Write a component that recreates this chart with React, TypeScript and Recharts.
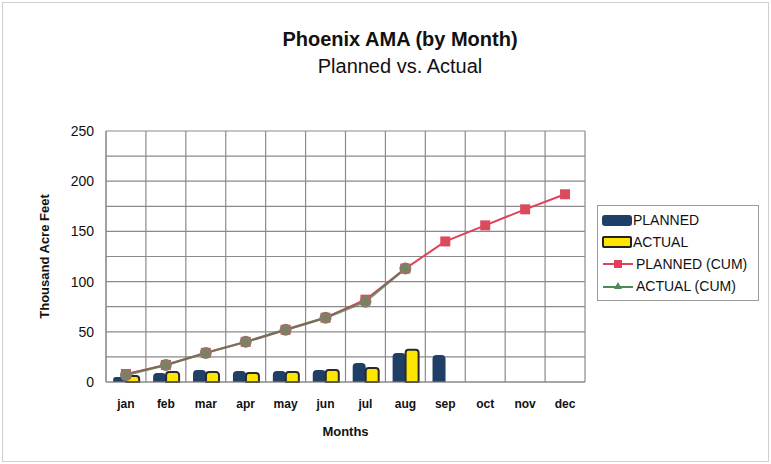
import { ComposedChart, Bar, Line, XAxis, YAxis, CartesianGrid } from 'recharts'

const months = ['jan', 'feb', 'mar', 'apr', 'may', 'jun', 'jul', 'aug', 'sep', 'oct', 'nov', 'dec']
const planned = [5, 9, 12, 11, 11, 12, 19, 29, 27, null, null, null]
const actual = [6, 10, 10, 9, 10, 12, 14, 32, null, null, null, null]
const plannedCum = [8, 17, 29, 40, 52, 64, 82, 113, 140, 156, 172, 187]
const actualCum = [7, 17, 29, 40, 52, 64, 80, 113, null, null, null, null]
const yTicks = [0, 25, 50, 75, 100, 125, 150, 175, 200, 225, 250]

const data = months.map((m, i) => ({
  month: m,
  planned: planned[i],
  actual: actual[i],
  plannedCum: plannedCum[i],
  actualCum: actualCum[i],
}))

const font = '"Liberation Sans", Arial, sans-serif'

const hasPoint = (p: any) => p.cx != null && p.cy != null && p.value != null

function Triangle(props: any) {
  const { cx, cy } = props
  if (!hasPoint(props)) return <g />
  return <path d={`M${cx},${cy - 4}L${cx + 4},${cy + 3}L${cx - 4},${cy + 3}Z`} fill="#6a8a5a" fillOpacity={0.7} />
}

function LegendBox() {
  const row = { display: 'flex', alignItems: 'center', height: 22 } as const
  return (
    <div style={{ position: 'absolute', left: 597, top: 205, border: '1px solid #9a9a9a', padding: '3px 4px', width: 152, fontFamily: font, fontSize: 14, color: '#111', background: '#fff' }}>
      <div style={row}>
        <span style={{ width: 30, height: 11, background: '#1f3f66', borderRadius: 3, marginRight: 1 }} />PLANNED
      </div>
      <div style={row}>
        <span style={{ width: 26, height: 8, background: '#ffe600', border: '2px solid #222', borderRadius: 2, marginRight: 1 }} />ACTUAL
      </div>
      <div style={row}>
        <svg width={32} height={12} style={{ marginRight: 2 }}>
          <line x1={1} y1={6} x2={31} y2={6} stroke="#e0405a" strokeWidth={2} />
          <rect x={12} y={2} width={8} height={8} fill="#e0405a" />
        </svg>
        PLANNED (CUM)
      </div>
      <div style={row}>
        <svg width={32} height={12} style={{ marginRight: 2 }}>
          <line x1={1} y1={7} x2={31} y2={7} stroke="#4e8a55" strokeWidth={2} />
          <path d="M16,2L20,9L12,9Z" fill="#4e8a55" />
        </svg>
        ACTUAL (CUM)
      </div>
    </div>
  )
}

export default function App() {
  return (
    <div style={{ position: 'absolute', left: 0, top: 0, width: 771, height: 464, background: '#fff', fontFamily: font }}>
      <div style={{ position: 'absolute', left: 2, top: 2, width: 765, height: 458, border: '1px solid #cfcfcf' }} />
      <div style={{ position: 'absolute', left: 0, width: 800, top: 28, textAlign: 'center', fontSize: 20, fontWeight: 'bold', color: '#111' }}>
        Phoenix AMA (by Month)
      </div>
      <div style={{ position: 'absolute', left: 0, width: 800, top: 55, textAlign: 'center', fontSize: 20, color: '#111' }}>
        Planned vs. Actual
      </div>
      <div style={{ position: 'absolute', left: 0, top: 0 }}>
        <ComposedChart
          width={771}
          height={464}
          data={data}
          margin={{ top: 131, right: 186, left: 36, bottom: 52 }}
          barCategoryGap="18%"
          barGap={0}
        >
          <CartesianGrid
            stroke="#8a8a8a"
            strokeWidth={1.2}
            verticalCoordinatesGenerator={({ offset }: any) =>
              months.map((_, i) => offset.left + (i * offset.width) / months.length).concat([offset.left + offset.width])
            }
          />
          <XAxis
            dataKey="month"
            tickLine={false}
            axisLine={{ stroke: '#8a8a8a' }}
            tick={{ fontSize: 12, fontWeight: 'bold', fill: '#111', fontFamily: font }}
            tickMargin={11}
            height={30}
            label={{ value: 'Months', position: 'insideBottom', offset: -24, fontSize: 13, fontWeight: 'bold', fill: '#111', fontFamily: font }}
          />
          <YAxis
            domain={[0, 250]}
            ticks={yTicks}
            interval={0}
            width={70}
            tickLine={false}
            axisLine={{ stroke: '#8a8a8a' }}
            tickFormatter={(v: number) => (v % 50 === 0 ? String(v) : '')}
            tick={{ fontSize: 14, fill: '#111', fontFamily: font }}
            tickMargin={6}
            label={{ value: 'Thousand Acre Feet', angle: -90, position: 'insideLeft', offset: 0, dx: 8, fontSize: 13, fontWeight: 'bold', fill: '#111', fontFamily: font, style: { textAnchor: 'middle' } }}
          />
          <Bar dataKey="planned" fill="#1f3f66" radius={[4, 4, 0, 0]} isAnimationActive={false} />
          <Bar dataKey="actual" fill="#ffe600" stroke="#2a2a2a" strokeWidth={2} radius={[3, 3, 0, 0]} isAnimationActive={false} />
          <Line
            type="linear"
            dataKey="plannedCum"
            stroke="#e0405a"
            strokeWidth={2}
            dot={(p: any) => (hasPoint(p) ? <rect key={p.index} x={p.cx - 5} y={p.cy - 5} width={10} height={10} fill="#dc4a5e" /> : <g key={p.index} />)}
            isAnimationActive={false}
            activeDot={false}
          />
          <Line
            type="linear"
            dataKey="actualCum"
            stroke="#5a7a55"
            strokeOpacity={0.75}
            strokeWidth={2.5}
            dot={(p: any) => (hasPoint(p) ? <circle key={p.index} cx={p.cx} cy={p.cy} r={6} fill="#8a7a6a" /> : <g key={p.index} />)}
            isAnimationActive={false}
            activeDot={false}
          />
          <Line
            type="linear"
            dataKey="actualCum"
            stroke="none"
            dot={(p: any) => <Triangle key={p.index} {...p} />}
            isAnimationActive={false}
            activeDot={false}
          />
        </ComposedChart>
      </div>
      <LegendBox />
    </div>
  )
}
